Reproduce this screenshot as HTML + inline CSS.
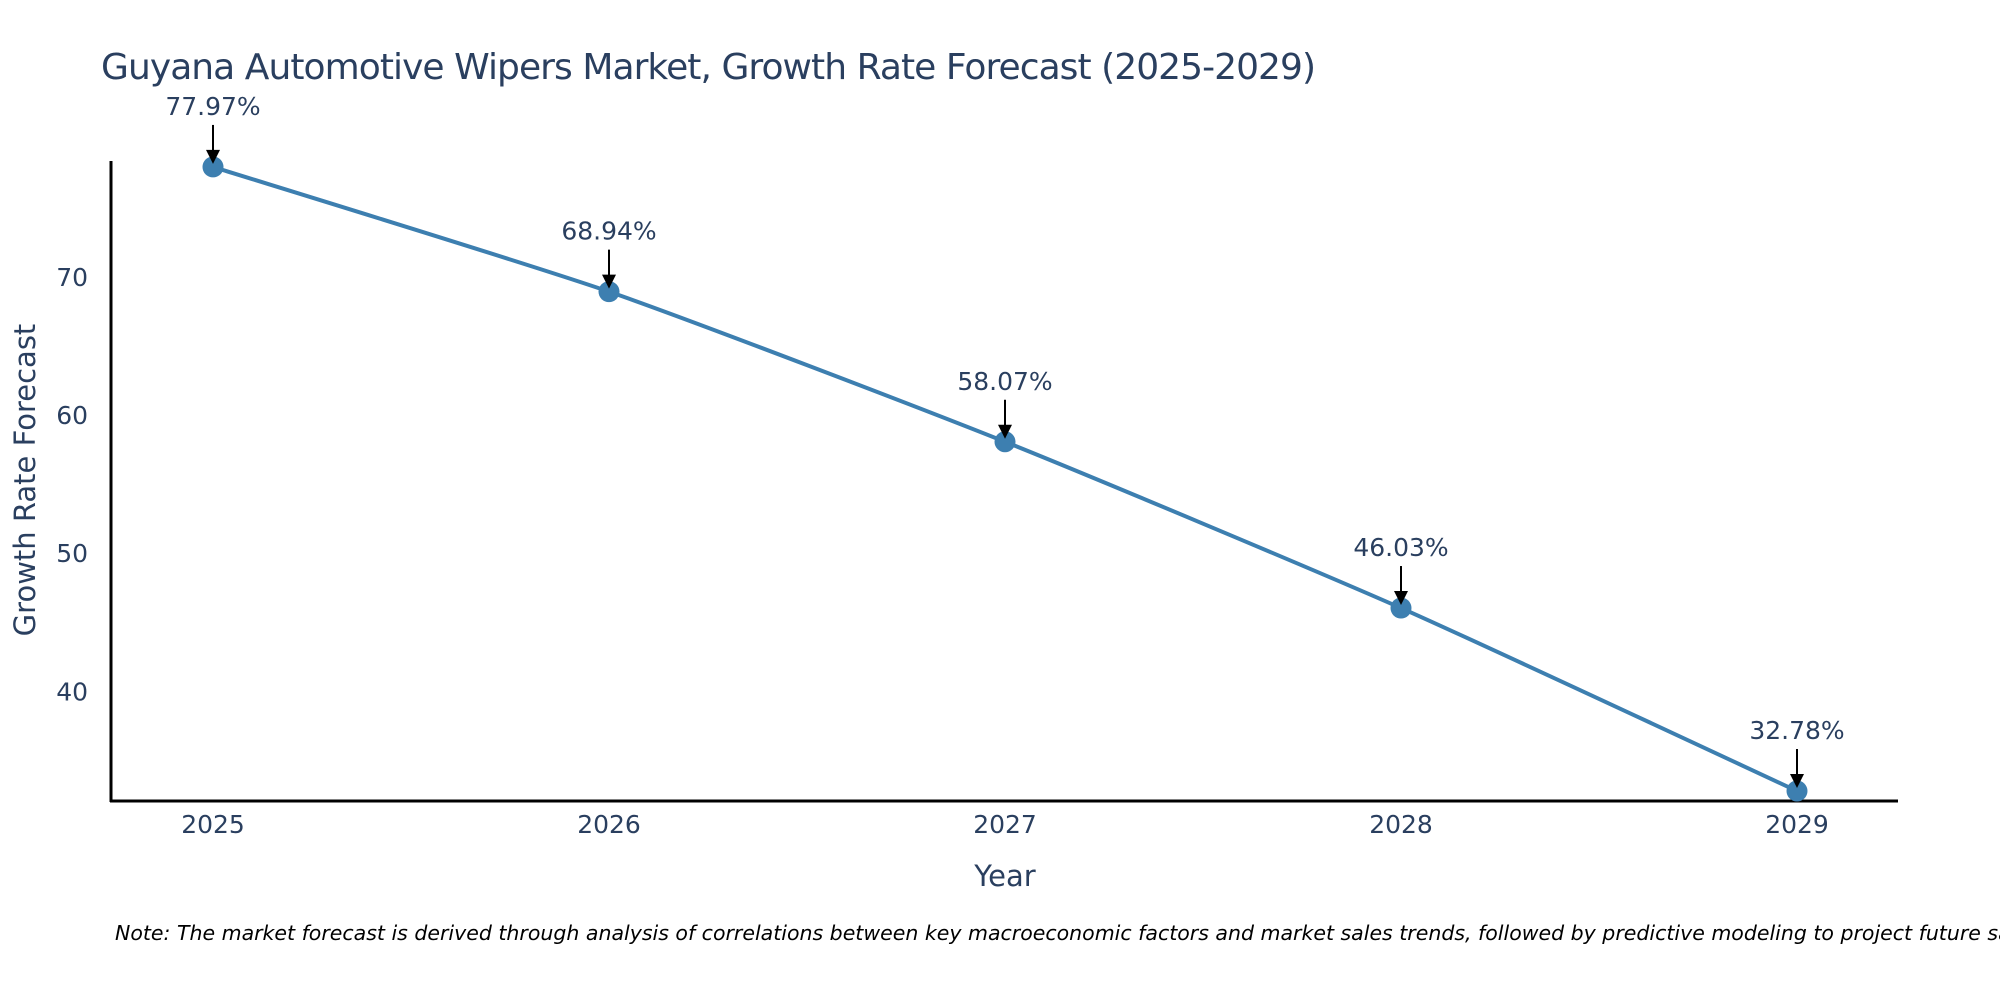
<!DOCTYPE html>
<html><head><meta charset="utf-8"><style>
html,body{margin:0;padding:0;background:#fff;overflow:hidden;}
svg{display:block;font-family:"DejaVu Sans","Liberation Sans",sans-serif;}
</style></head><body>
<svg id="chart" width="2000" height="1000" viewBox="0 0 2000 1000">
<text x="101" y="79" font-size="36" fill="#2a3f5f" textLength="1215">Guyana Automotive Wipers Market, Growth Rate Forecast (2025-2029)</text>
<line x1="111" y1="161" x2="111" y2="802" stroke="#000" stroke-width="3"/>
<line x1="110" y1="801" x2="1898" y2="801" stroke="#000" stroke-width="3"/>
<g id="yticks"></g>
<g id="xticks"></g>
<text transform="translate(35,480) rotate(-90)" text-anchor="middle" font-size="29" fill="#2a3f5f">Growth Rate Forecast</text>
<text x="1005" y="886" text-anchor="middle" font-size="29" fill="#2a3f5f">Year</text>
<path id="line" fill="none" stroke="#3d7fb0" stroke-width="4"/>
<g id="marks"></g>
<text x="115" y="940" font-size="20.5" font-style="italic" fill="#000">Note: The market forecast is derived through analysis of correlations between key macroeconomic factors and market sales trends, followed by predictive modeling to project future sales</text>
</svg>
<script>
const years = [2025, 2026, 2027, 2028, 2029];
const values = [77.97, 68.94, 58.07, 46.03, 32.78];
const labels = ["77.97%", "68.94%", "58.07%", "46.03%", "32.78%"];
const yTicks = [40, 50, 60, 70];

const NS = "http://www.w3.org/2000/svg";
const xs = v => 213 + (v - 2025) * (1797 - 213) / 4;
const ys = v => 277 + (70 - v) * 13.81;
function mk(tag, attrs, parent) {
  const e = document.createElementNS(NS, tag);
  for (const k in attrs) e.setAttribute(k, attrs[k]);
  parent.appendChild(e);
  return e;
}
const yt = document.getElementById('yticks');
yTicks.forEach(t => {
  const e = mk('text', {x: 88, y: ys(t) + 9, 'text-anchor': 'end', 'font-size': 25, fill: '#2a3f5f'}, yt);
  
  
  e.textContent = t;
});
const xt = document.getElementById('xticks');
years.forEach(y => {
  const e = mk('text', {x: xs(y), y: 833, 'text-anchor': 'middle', 'font-size': 25, fill: '#2a3f5f'}, xt);
  
  
  e.textContent = y;
});
const P = years.map((y, i) => [xs(y), ys(values[i])]);
let d = `M${P[0][0]},${P[0][1]}`;
const t = 0.1;
for (let i = 0; i < P.length - 1; i++) {
  const p0 = P[i - 1] || P[i], p1 = P[i], p2 = P[i + 1], p3 = P[i + 2] || P[i + 1];
  const c1 = [p1[0] + (p2[0] - p0[0]) * t, p1[1] + (p2[1] - p0[1]) * t];
  const c2 = [p2[0] - (p3[0] - p1[0]) * t, p2[1] - (p3[1] - p1[1]) * t];
  d += ` C${c1[0]},${c1[1]} ${c2[0]},${c2[1]} ${p2[0]},${p2[1]}`;
}
document.getElementById('line').setAttribute('d', d);
const mg = document.getElementById('marks');
P.forEach((p, i) => {
  const c = mk('circle', {cx: p[0], cy: p[1], r: 10.5, fill: '#3d7fb0'}, mg);
  
  
  const l = mk('line', {x1: p[0], y1: p[1] - 42, x2: p[0], y2: p[1] - 14, stroke: '#000', 'stroke-width': 2}, mg);
  
  
  const h = mk('polygon', {points: `${p[0]-7},${p[1]-17} ${p[0]+7},${p[1]-17} ${p[0]},${p[1]-3}`, fill: '#000'}, mg);
  
  
  const tx = mk('text', {x: p[0], y: p[1] - 52, 'text-anchor': 'middle', 'font-size': 25, fill: '#2a3f5f'}, mg);
  
  
  tx.textContent = labels[i];
});
</script>
</body></html>
